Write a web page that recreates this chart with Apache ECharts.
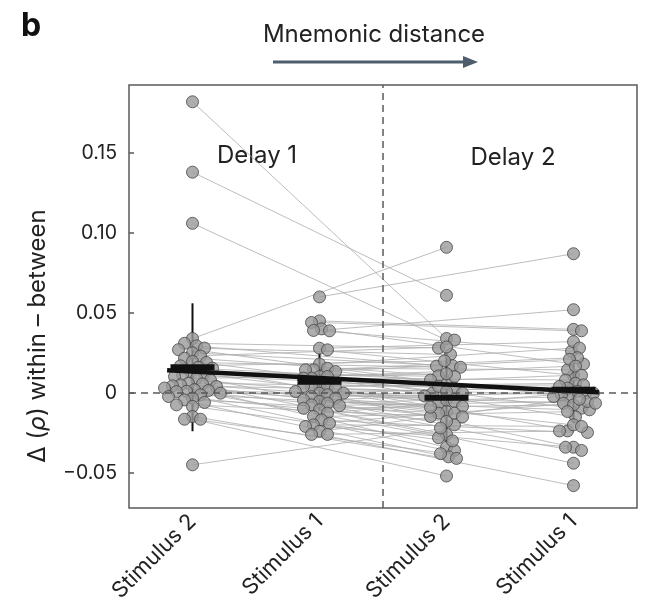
<!DOCTYPE html>
<html>
<head>
<meta charset="utf-8">
<script src="https://cdn.jsdelivr.net/npm/echarts@6/dist/echarts.min.js"></script>
<style>
  html, body { margin: 0; padding: 0; background: #ffffff; }
  #chart { width: 647px; height: 611px; }
</style>
</head>
<body>
<div id="chart"></div>
<script>
// Condition labels along the x axis (mnemonic distance increases left to right)
const categories = ['Stimulus 2', 'Stimulus 1', 'Stimulus 2', 'Stimulus 1'];

// Per-subject Δρ (within − between); index i is the same subject in every array
const delay1Stim2 = [0.182, 0.138, 0.106, 0.034, 0.031, 0.0294, 0.028, 0.027, 0.025, 0.023, 0.0217,
  0.0196, 0.019, 0.0169, 0.016, 0.0154, 0.0133, 0.0123, 0.0113, 0.0102, 0.009, 0.008, 0.006, 0.0056,
  0.005, 0.0044, 0.004, 0.003, 0.002, 0.0015, 0.001, 0.0008, -0.0002, -0.0012, -0.0023, -0.0033,
  -0.0044, -0.006, -0.0075, -0.0085, -0.0148, -0.0165, -0.0165, -0.045];
const delay1Stim1 = [0.060, 0.045, 0.044, 0.040, 0.039, 0.0388, 0.0279, 0.0269, 0.018, 0.0154, 0.0144,
  0.0144, 0.0133, 0.0102, 0.0102, 0.0092, 0.0092, 0.005, 0.004, 0.004, 0.004, 0.003, 0.0008, -0.0002,
  -0.0002, -0.0012, -0.0023, -0.0033, -0.0044, -0.0054, -0.0065, -0.0075, -0.008, -0.0096, -0.0106,
  -0.0127, -0.0148, -0.0169, -0.019, -0.020, -0.021, -0.024, -0.026, -0.026];
const delay2Stim2 = [0.034, 0.061, 0.033, 0.091, 0.028, 0.0167, 0.024, 0.006, 0.017, 0.0287, 0.0106,
  -0.0002, 0.016, 0.020, -0.0117, 0.008, 0.0102, -0.0065, 0.003, -0.020, 0.012, -0.0044, 0.004, -0.026,
  -0.0054, 0.0008, -0.0127, -0.034, -0.0085, -0.002, -0.028, -0.0148, -0.0002, -0.009, -0.036, -0.0179,
  -0.0127, -0.040, -0.015, -0.030, -0.041, -0.038, -0.052, -0.022];
const delay2Stim1 = [0.087, 0.0397, 0.0388, 0.018, 0.052, 0.026, 0.032, 0.011, 0.028, 0.0144, 0.022,
  -0.0023, 0.021, 0.0167, -0.0096, 0.008, -0.015, 0.011, 0.006, -0.0238, 0.005, -0.0012, 0.003, -0.034,
  0.004, -0.0065, -0.0002, -0.020, 0.001, -0.0106, -0.0023, -0.036, -0.0054, -0.0075, -0.044, -0.0002,
  -0.0117, -0.0248, -0.0065, -0.021, -0.034, -0.004, -0.058, -0.0238];

// Group summaries: mean and SD for each condition
const groupMeans = [0.016, 0.007, -0.003, 0.002];
const groupSD = [0.040, 0.018, 0.028, 0.021];

// Linear trend over mnemonic distance (start / end of the fitted segment)
const trendX = [0.8, 4.2];
const trendY = [0.0142, 0.0004];

// y-axis ticks
const yTicks = [-0.05, 0, 0.05, 0.10, 0.15];
const yTickLabels = ['\u22120.05', '0', '0.05', '0.10', '0.15'];

const groups = [delay1Stim2, delay1Stim1, delay2Stim2, delay2Stim1];
const catPos = [1, 2, 3, 4];
const FONT = 'Inter, "Noto Sans", sans-serif';
const AXIS_COLOR = '#5a5a5a';

// each subject is linked across delays for the same stimulus
const subjectLinks = [];
for (let i = 0; i < delay1Stim2.length; i++) {
  subjectLinks.push({ coords: [[1, delay1Stim2[i]], [3, delay2Stim2[i]]] });
  subjectLinks.push({ coords: [[2, delay1Stim1[i]], [4, delay2Stim1[i]]] });
}

const chart = echarts.init(document.getElementById('chart'), null, { renderer: 'canvas' });

function scatterData(offsets) {
  const out = [];
  groups.forEach((vals, g) => {
    vals.forEach((v, i) => out.push([catPos[g] + (offsets ? offsets[g][i] : 0), v]));
  });
  return out;
}

const summaryData = groupMeans.map((m, g) => [catPos[g], m, groupSD[g]]);

const option = {
  animation: false,
  backgroundColor: '#ffffff',
  grid: {
    left: 129, right: 10, top: 85, bottom: 103,
    show: true, borderColor: AXIS_COLOR, borderWidth: 1.5, backgroundColor: 'transparent'
  },
  xAxis: {
    type: 'value', min: 0.5, max: 4.5,
    splitLine: { show: false },
    axisLine: { show: false },
    axisTick: { show: true, inside: true, length: 5, customValues: catPos,
      lineStyle: { color: AXIS_COLOR, width: 1.5 } },
    axisLabel: {
      customValues: catPos, rotate: 45, margin: 10,
      formatter: v => categories[Math.round(v) - 1],
      fontFamily: FONT, fontSize: 22, color: '#222222'
    }
  },
  yAxis: {
    type: 'value', min: -0.072, max: 0.1925,
    splitLine: { show: false },
    axisLine: { show: false },
    axisTick: { show: true, inside: true, length: 5, customValues: yTicks,
      lineStyle: { color: AXIS_COLOR, width: 1.5 } },
    axisLabel: {
      customValues: yTicks, margin: 12,
      formatter: v => yTickLabels[yTicks.findIndex(t => Math.abs(t - v) < 1e-9)],
      fontFamily: FONT, fontSize: 19.5, color: '#222222'
    }
  },
  graphic: [
    { type: 'text', left: 21, top: 10,
      style: { text: 'b', font: 'bold 32px ' + FONT, fill: '#111111' } },
    { type: 'text', x: 374, y: 35,
      style: { text: 'Mnemonic distance', font: '24px ' + FONT, fill: '#222222',
        textAlign: 'center', textVerticalAlign: 'middle' } },
    { type: 'line', shape: { x1: 273, y1: 62, x2: 466, y2: 62 },
      style: { stroke: '#4e5d6c', lineWidth: 3 } },
    { type: 'polygon', shape: { points: [[478, 62], [463, 56], [463, 68]] },
      style: { fill: '#4e5d6c' } },
    { type: 'text', x: 38, y: 336, rotation: Math.PI / 2,
      style: {
        text: '{n|\u0394 (}{i|\u03c1}{n|) within \u2013 between}',
        textAlign: 'center', textVerticalAlign: 'middle',
        rich: {
          n: { fontFamily: FONT, fontSize: 24, fill: '#222222' },
          i: { fontFamily: FONT, fontSize: 24, fontStyle: 'italic', fill: '#222222' }
        }
      } },
    { type: 'text', x: 257, y: 156,
      style: { text: 'Delay 1', font: '24px ' + FONT, fill: '#222222',
        textAlign: 'center', textVerticalAlign: 'middle' } },
    { type: 'text', x: 513, y: 158,
      style: { text: 'Delay 2', font: '24px ' + FONT, fill: '#222222',
        textAlign: 'center', textVerticalAlign: 'middle' } }
  ],
  series: [
    {
      name: 'subjects', type: 'lines', coordinateSystem: 'cartesian2d', z: 1,
      silent: true, polyline: false,
      lineStyle: { color: '#adadad', width: 0.9, opacity: 0.9 },
      data: subjectLinks,
      markLine: {
        silent: true, symbol: 'none', label: { show: false },
        lineStyle: { color: AXIS_COLOR, width: 1.5, type: [7, 5] },
        data: [{ yAxis: 0 }, { xAxis: 2.5 }]
      }
    },
    {
      name: 'sd', type: 'custom', z: 2, silent: true,
      data: summaryData,
      renderItem: (params, api) => {
        const x = api.value(0), m = api.value(1), s = api.value(2);
        const top = api.coord([x, m + s]);
        const bot = api.coord([x, m - s]);
        return {
          type: 'line',
          shape: { x1: top[0], y1: top[1], x2: bot[0], y2: bot[1] },
          style: { stroke: '#111111', lineWidth: 2 }
        };
      }
    },
    {
      name: 'dots', type: 'scatter', z: 3, silent: true,
      symbol: 'circle', symbolSize: 12,
      itemStyle: { color: '#9a9a9a', borderColor: '#444444', borderWidth: 1 },
      data: scatterData(null)
    },
    {
      name: 'means', type: 'custom', z: 4, silent: true,
      data: summaryData,
      renderItem: (params, api) => {
        const c = api.coord([api.value(0), api.value(1)]);
        return {
          type: 'rect',
          shape: { x: c[0] - 22, y: c[1] - 3, width: 44, height: 6 },
          style: { fill: '#111111' }
        };
      }
    },
    {
      name: 'trend', type: 'line', z: 5, silent: true, symbol: 'none',
      lineStyle: { color: '#111111', width: 4.5 },
      data: trendX.map((x, k) => [x, trendY[k]])
    }
  ]
};

chart.setOption(option);

// Compact swarm layout: spread each group's dots sideways (in pixels) within a fixed half-width,
// letting them overlap a little once the band is full
function swarmOffsets(vals) {
  const pts = vals.map((v, i) => ({ i, y: chart.convertToPixel({ gridIndex: 0 }, [1, v])[1] }));
  pts.sort((a, b) => a.y - b.y);
  const placed = [];
  const off = new Array(vals.length).fill(0);
  const minDist = 8, step = 2, halfWidth = 28;
  pts.forEach((p, n) => {
    const side = n % 2 ? 1 : -1;
    let best = 0, bestGap = -1;
    for (let k = 0; k <= 2 * halfWidth / step; k++) {
      const cand = k === 0 ? 0 : (k % 2 ? side : -side) * Math.ceil(k / 2) * step;
      const gap = placed.reduce((g, q) => Math.min(g, Math.hypot(q.dx - cand, q.y - p.y)), Infinity);
      if (gap >= minDist) { best = cand; bestGap = gap; break; }
      if (gap > bestGap) { bestGap = gap; best = cand; }
    }
    placed.push({ dx: best, y: p.y });
    off[p.i] = best;
  });
  const pxPerUnit = chart.convertToPixel({ gridIndex: 0 }, [2, 0])[0] -
                    chart.convertToPixel({ gridIndex: 0 }, [1, 0])[0];
  return off.map(d => d / pxPerUnit);
}

const offsets = groups.map(swarmOffsets);
chart.setOption({ series: [{}, {}, { data: scatterData(offsets) }, {}, {}] });
</script>
</body>
</html>
